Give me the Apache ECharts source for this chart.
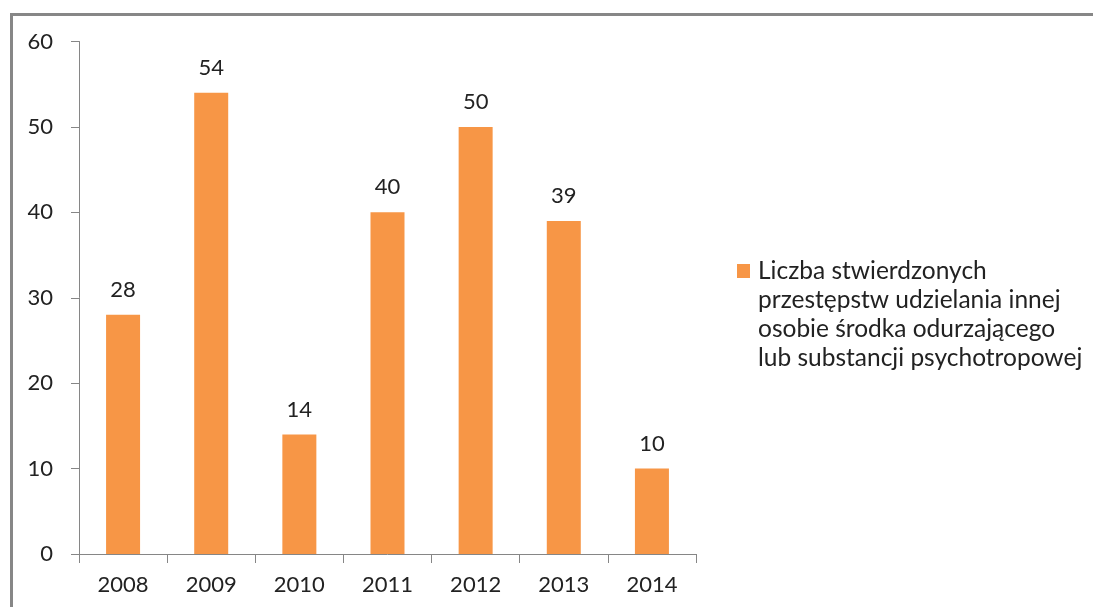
<!DOCTYPE html>
<html>
<head>
<meta charset="utf-8">
<script src="https://cdn.jsdelivr.net/npm/echarts@6/dist/echarts.min.js"></script>
<style>html,body{margin:0;padding:0;background:#fff;}#c{width:1093px;height:607px;}</style>
</head>
<body>
<div id="c"></div>
<script>
var categories = ['2008', '2009', '2010', '2011', '2012', '2013', '2014'];
var values = [28, 54, 14, 40, 50, 39, 10];
var yTicks = [0, 10, 20, 30, 40, 50, 60];
var seriesName = 'Liczba stwierdzonych\nprzestępstw udzielania innej\nosobie środka odurzającego\nlub substancji psychotropowej';

var FONT = 'Lato';
var chart = echarts.init(document.getElementById('c'), null, {renderer: 'canvas'});
chart.setOption({
  backgroundColor: '#fff',
  animation: false,
  textStyle: {fontFamily: FONT},
  graphic: [{
    type: 'rect', silent: true,
    shape: {x: 11.5, y: 14.5, width: 1200, height: 700},
    style: {fill: 'none', stroke: '#878787', lineWidth: 3}
  }],
  grid: {left: 79, right: 397, top: 41.5, bottom: 53, containLabel: false},
  legend: {
    show: true,
    left: 737, top: 256.5,
    padding: 0,
    orient: 'vertical',
    itemWidth: 16, itemHeight: 116,
    itemGap: 0,
    icon: 'path://M0,0 L0.001,0 Z M0,7.5 L13,7.5 L13,21.5 L0,21.5 Z M16,116 L15.999,116 Z',
    symbolKeepAspect: false,
    selectedMode: false,
    textStyle: {fontFamily: FONT, fontSize: 24.5, color: '#222', lineHeight: 29},
    data: [seriesName]
  },
  xAxis: {
    type: 'category',
    data: categories,
    axisLine: {lineStyle: {color: '#868686', width: 1}},
    axisTick: {show: true, length: 9, alignWithLabel: false, lineStyle: {color: '#868686'}},
    axisLabel: {fontFamily: FONT, fontSize: 22, color: '#222', margin: 20}
  },
  yAxis: {
    type: 'value',
    min: 0, max: 60, interval: 10,
    axisLine: {show: true, lineStyle: {color: '#868686', width: 1}},
    axisTick: {show: true, length: 8, lineStyle: {color: '#868686'}},
    splitLine: {show: false},
    axisLabel: {fontFamily: FONT, fontSize: 22, color: '#222', margin: 26,
      formatter: function (v) { return yTicks.indexOf(v) >= 0 ? String(v) : ''; }}
  },
  series: [{
    name: seriesName,
    type: 'bar',
    data: values,
    barWidth: 34,
    itemStyle: {color: '#F79646'},
    label: {show: true, position: 'top', distance: 14, fontFamily: FONT, fontSize: 22, color: '#222'}
  }]
});
</script>
</body>
</html>
